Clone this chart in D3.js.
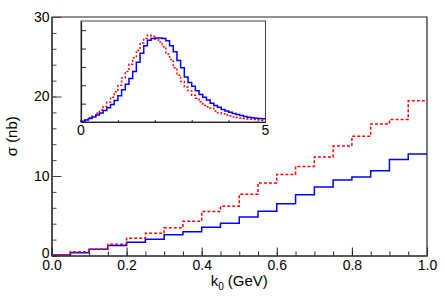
<!DOCTYPE html>
<html>
<head>
<meta charset="utf-8">
<script src="https://cdn.jsdelivr.net/npm/d3@7"></script>
<style>
  body { margin: 0; background: #fff; }
  svg text { font-family: "Liberation Sans", Arial, sans-serif; fill: #000; }
</style>
</head>
<body>
<div id="chart"></div>
<script>
// main histograms: 20 bins of 0.05 GeV from 0 to 1
var k0Width = 0.05;
var sigmaBlue = [0.07, 0.34, 0.79, 1.26, 1.68, 2.05, 2.61, 3.0, 3.55, 4.07,
                 4.83, 5.58, 6.52, 7.65, 8.61, 9.5, 9.87, 10.65, 12.06, 12.78];
var sigmaRed  = [0.05, 0.46, 0.8, 1.43, 2.18, 2.81, 3.49, 4.32, 5.55, 6.2,
                 7.7, 9.13, 10.2, 11.2, 12.39, 13.78, 15.0, 16.55, 17.1, 19.45];
var xTicks = [0, 0.2, 0.4, 0.6, 0.8, 1.0];
var yTicks = [0, 10, 20, 30];

// inset: 50 bins of 0.1 from 0 to 5
var insetWidth = 0.1;
var insetBlue = [0.008, 0.022, 0.038, 0.055, 0.075, 0.098, 0.125, 0.155, 0.19, 0.235,
                 0.285, 0.35, 0.41, 0.475, 0.55, 0.65, 0.75, 0.83, 0.89, 0.91,
                 0.915, 0.915, 0.91, 0.885, 0.83, 0.765, 0.67, 0.59, 0.49, 0.43,
                 0.39, 0.34, 0.30, 0.27, 0.24, 0.205, 0.18, 0.16, 0.135, 0.12,
                 0.105, 0.092, 0.082, 0.07, 0.06, 0.052, 0.047, 0.042, 0.038, 0.035];
var insetRed  = [0.01, 0.025, 0.045, 0.065, 0.095, 0.13, 0.17, 0.215, 0.27, 0.33,
                 0.40, 0.48, 0.55, 0.63, 0.70, 0.78, 0.86, 0.91, 0.945, 0.935,
                 0.905, 0.87, 0.82, 0.74, 0.68, 0.59, 0.51, 0.44, 0.38, 0.34,
                 0.29, 0.26, 0.22, 0.18, 0.165, 0.15, 0.12, 0.10, 0.09, 0.075,
                 0.065, 0.055, 0.048, 0.043, 0.038, 0.033, 0.029, 0.026, 0.023, 0.02];
var insetXLabels = [0, 5];

var W = 445, H = 301;
var svg = d3.select("#chart").append("svg")
  .attr("width", W).attr("height", H);

var x = d3.scaleLinear().domain([0, 1]).range([51.5, 427]);
var y = d3.scaleLinear().domain([0, 30]).range([255.5, 17]);

// turn bin contents into step points
function steps(vals, w) {
  var pts = [[0, 0]];
  vals.forEach(function(v, i) {
    pts.push([i * w, v]);
    pts.push([(i + 1) * w, v]);
  });
  return pts;
}

svg.append("clipPath").attr("id", "clipMain")
  .append("rect").attr("x", x(0)).attr("y", y(30))
  .attr("width", x(1) - x(0)).attr("height", y(0) - y(30));

// frame top/right
svg.append("path")
  .attr("d", "M" + x(0) + "," + y(30) + "H" + x(1) + "V" + y(0))
  .attr("fill", "none").attr("stroke", "#222").attr("stroke-width", 1.2);

// axes
function styleAxis(g, col, sw) {
  g.selectAll("path.domain").attr("stroke", col).attr("stroke-width", sw);
  g.selectAll(".tick line").attr("stroke", col);
  g.selectAll("text").attr("font-size", 14).attr("fill", "#000")
    .style("font-family", "'Liberation Sans', Arial, sans-serif");
}

var yMinor = svg.append("g").attr("transform", "translate(" + x(0) + ",0)")
  .call(d3.axisLeft(y).tickValues(d3.range(0, 31, 2)).tickFormat("")
    .tickSizeInner(-5).tickSizeOuter(0));
styleAxis(yMinor, "#444", 1.5);
var yAxis = svg.append("g").attr("transform", "translate(" + x(0) + ",0)")
  .call(d3.axisLeft(y).tickValues(yTicks).tickFormat(d3.format("d"))
    .tickSizeInner(-10).tickSizeOuter(0).tickPadding(3));
styleAxis(yAxis, "#444", 1.5);
yAxis.selectAll("text").attr("x", -2);
// lift the "0" a touch so it sits just above the "0.0"
yAxis.selectAll(".tick").filter(function(d) { return d === 0; })
  .select("text").attr("dy", "0.15em");

var xMinor = svg.append("g").attr("transform", "translate(0," + y(0) + ")")
  .call(d3.axisBottom(x).tickValues(d3.range(0, 1.001, 0.05)).tickFormat("")
    .tickSizeInner(-4).tickSizeOuter(0));
styleAxis(xMinor, "#222", 1.2);
var xAxis = svg.append("g").attr("transform", "translate(0," + y(0) + ")")
  .call(d3.axisBottom(x).tickValues(xTicks).tickFormat(d3.format(".1f"))
    .tickSizeInner(-8).tickSizeOuter(0));
styleAxis(xAxis, "#222", 1.2);
xAxis.selectAll("text").attr("y", 5);

// titles
var xt = svg.append("text").attr("x", (x(0) + x(1)) / 2).attr("y", 286)
  .attr("text-anchor", "middle").attr("font-size", 15);
xt.append("tspan").text("k");
xt.append("tspan").attr("font-size", 10).attr("dy", 4).text("0");
xt.append("tspan").attr("dy", -4).text(" (GeV)");

svg.append("text")
  .attr("transform", "translate(17," + ((y(0) + y(30)) / 2) + ") rotate(-90)")
  .attr("text-anchor", "middle").attr("font-size", 15)
  .text("σ (nb)");

// histograms
var line = d3.line().x(function(d) { return x(d[0]); }).y(function(d) { return y(d[1]); });
var hist = svg.append("g").attr("clip-path", "url(#clipMain)");
hist.append("path").attr("d", line(steps(sigmaBlue, k0Width)))
  .attr("fill", "none").attr("stroke", "#0000ff").attr("stroke-width", 1.5);
hist.append("path").attr("d", line(steps(sigmaRed, k0Width)))
  .attr("fill", "none").attr("stroke", "#ff0000").attr("stroke-width", 1.5)
  .attr("stroke-dasharray", "3,2");

// inset
var xi = d3.scaleLinear().domain([0, 5]).range([81, 265.5]);
var yi = d3.scaleLinear().domain([0, 1.1]).range([122, 21]);
var inset = svg.append("g");
inset.append("rect").attr("x", xi(0)).attr("y", yi(1.1))
  .attr("width", xi(5) - xi(0)).attr("height", yi(0) - yi(1.1))
  .attr("fill", "#fff").attr("stroke", "#444").attr("stroke-width", 1);

var yiAxis = inset.append("g").attr("transform", "translate(" + xi(0) + ",0)")
  .call(d3.axisLeft(yi).tickValues([0.2, 0.4, 0.6, 0.8, 1.0]).tickFormat("")
    .tickSizeInner(-5).tickSizeOuter(0));
styleAxis(yiAxis, "#222", 1.2);
var xiAxis = inset.append("g").attr("transform", "translate(0," + yi(0) + ")")
  .call(d3.axisBottom(xi).tickValues([1, 2, 3, 4]).tickFormat("")
    .tickSizeInner(-2).tickSizeOuter(0));
styleAxis(xiAxis, "#222", 1.2);

inset.selectAll("text.ilab").data(insetXLabels).enter().append("text")
  .attr("class", "ilab")
  .attr("x", function(d) { return xi(d); }).attr("y", 135)
  .attr("text-anchor", "middle").attr("font-size", 14)
  .text(function(d) { return d; });

var linei = d3.line().x(function(d) { return xi(d[0]); }).y(function(d) { return yi(d[1]); });
inset.append("path").attr("d", linei(steps(insetRed, insetWidth)))
  .attr("fill", "none").attr("stroke", "#ff0000").attr("stroke-width", 1.5)
  .attr("stroke-dasharray", "2,2");
inset.append("path").attr("d", linei(steps(insetBlue, insetWidth)))
  .attr("fill", "none").attr("stroke", "#0000ff").attr("stroke-width", 1.5);
</script>
</body>
</html>
